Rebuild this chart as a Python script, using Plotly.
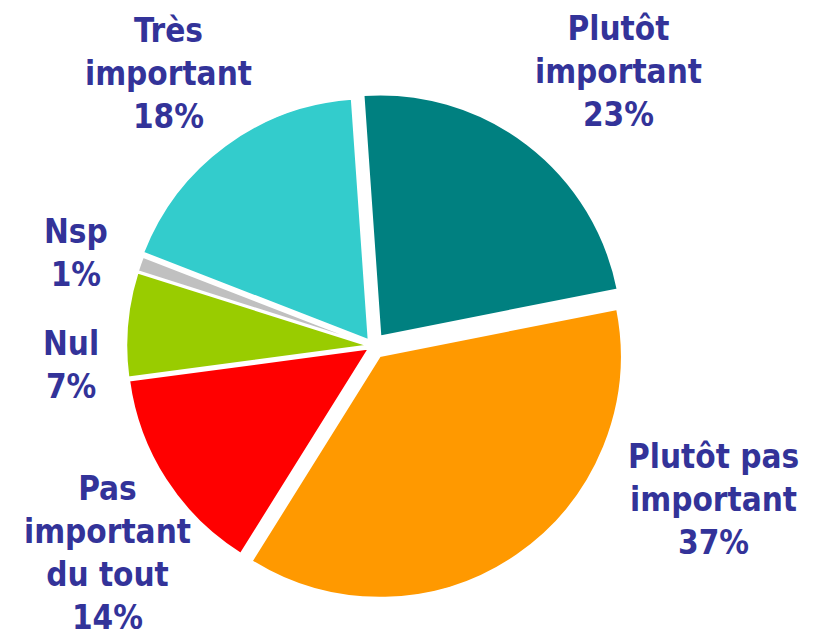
import plotly.graph_objects as go

# Data
categories = ["Plutôt important", "Plutôt pas important", "Pas important du tout", "Nul", "Nsp", "Très important"]
label_text = ["Plutôt<br>important", "Plutôt pas<br>important", "Pas<br>important<br>du tout", "Nul", "Nsp", "Très<br>important"]
values = [23, 37, 14, 7, 1, 18]

# Styles
colors = ["#008080", "#FF9900", "#FF0000", "#99CC00", "#C0C0C0", "#33CCCC"]
pulls = [0.05, 0.05, 0.02, 0.02, 0.02, 0.03]
label_pos = [(610, 64), (705, 491), (99, 545), (63, 357), (68, 245), (160, 66)]  # pixel centres

W, H = 821, 638

fig = go.Figure(go.Pie(
    labels=categories,
    values=values,
    sort=False,
    direction="clockwise",
    rotation=-4,
    pull=pulls,
    marker=dict(colors=colors, line=dict(color="white", width=2)),
    textinfo="none",
    hoverinfo="label+percent",
    showlegend=False,
    domain=dict(x=[111 / W, 619 / W], y=[46 / H, 554 / H]),
))

annotations = []
for txt, v, (px, py) in zip(label_text, values, label_pos):
    annotations.append(dict(
        x=px / W, y=1 - py / H, xref="paper", yref="paper",
        text=f"<b>{txt}<br>{v}%</b>", showarrow=False,
        xanchor="center", yanchor="middle", align="center",
        font=dict(family="DejaVu Sans Condensed, DejaVu Sans", size=33, color="#333399"),
    ))

fig.update_layout(
    width=W, height=H,
    margin=dict(l=0, r=0, t=0, b=0),
    paper_bgcolor="white", plot_bgcolor="white",
    annotations=annotations,
)

fig.write_html("out.html")
